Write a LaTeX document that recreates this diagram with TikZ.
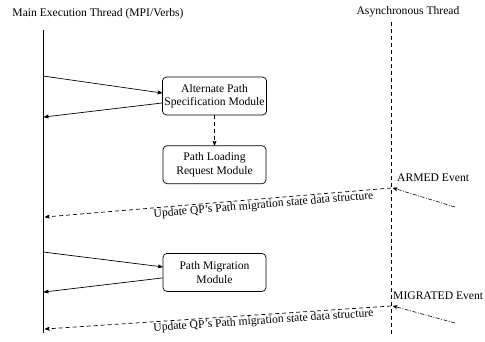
\documentclass[tikz,border=0pt]{standalone}
\usepackage{fontspec}
\setmainfont{Liberation Serif}
\usepackage{tikz}
\usetikzlibrary{positioning, arrows}
\tikzset{
>=stealth', % sharp arrow heads
x=1pt, y=-1pt, % one unit is one pixel of the sketch, y runs down
module/.style={draw, rounded corners=4pt, line width=0.7pt, minimum width=103pt, minimum height=38pt, align=center, inner sep=2pt}, % the module boxes
call/.style={->, line width=0.7pt}, % calls between thread and module
update/.style={->, line width=0.7pt, dash pattern=on 4pt off 3pt}, % state update arrows
event/.style={->, line width=0.6pt, dash pattern=on 4pt off 1.5pt on 1pt off 1.5pt}, % incoming events
}

\begin{document}
\begin{tikzpicture}[font=\fontsize{11.6}{13.5}\selectfont]
    \useasboundingbox (0,0) rectangle (485,341);
    % thread labels and time lines
    \node (mainlbl) at (98,14) {Main Execution Thread (MPI/Verbs)};
    \node (asynclbl) at (408,12) {Asynchronous Thread};
    \coordinate (maintop) at (43,30);
    \coordinate (mainbot) at (43,333);
    \coordinate (asynctop) at (391,22);
    \coordinate (asyncbot) at (391,335);
    \draw[line width=0.9pt] (maintop) -- (mainbot);
    \draw[line width=0.7pt, dash pattern=on 4pt off 3pt] (asynctop) -- (asyncbot);

    % modules
    \node[module] (apsm) at (214.5,96) {Alternate Path\\Specification Module};
    \node[module, below=30pt of apsm] (plrm) {Path Loading\\Request Module};
    \node[module, below=69pt of plrm] (pmm) {Path Migration\\Module};

    % points on the thread lines
    \coordinate (m1) at (43,76);
    \coordinate (m2) at (44,117);
    \coordinate (m3) at (43,252);
    \coordinate (m4) at (44,292);
    \coordinate (armhit) at (391,188);
    \coordinate (armsrc) at (455,207);
    \coordinate (mighit) at (391,306);
    \coordinate (migsrc) at (455,323);
    \coordinate (u1) at (45,217);
    \coordinate (u2) at (45,329);

    \draw[call] (m1) -- ([yshift=3pt]apsm.west);
    \draw[call] ([yshift=-7pt]apsm.west) -- (m2);
    \draw[update] (apsm) -- (plrm);
    \draw[call] (m3) -- ([yshift=5.5pt]pmm.west);
    \draw[call] ([yshift=-5.5pt]pmm.west) -- (m4);

    % events from the asynchronous thread
    \node[anchor=west, inner sep=1pt] (armlbl) at (396,178) {ARMED Event};
    \node[anchor=west, inner sep=1pt] (miglbl) at (392,296) {MIGRATED Event};
    \draw[event] (armsrc) -- ([xshift=2pt]armhit);
    \draw[event] (migsrc) -- ([xshift=2pt]mighit);
    \draw[update] (armhit) -- node[pos=0.37, sloped, below, inner sep=1pt] {Update QP's Path migration state data structure} (u1);
    \draw[update] (mighit) -- node[pos=0.37, sloped, below, inner sep=1pt] {Update QP's Path migration state data structure} (u2);
  \end{tikzpicture}
\end{document}
